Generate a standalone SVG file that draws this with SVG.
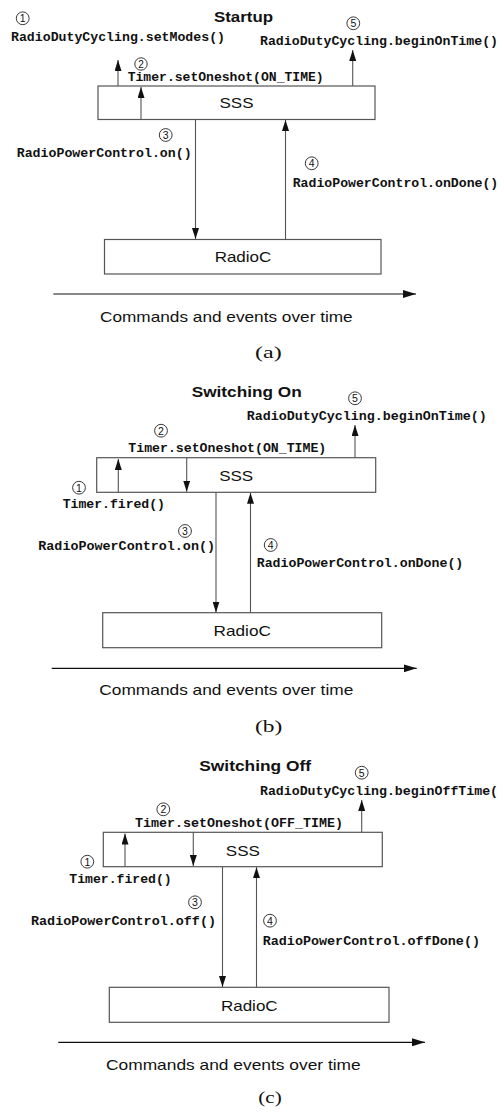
<svg xmlns="http://www.w3.org/2000/svg" width="499" height="1113" viewBox="0 0 499 1113">
  <style>
    .box { fill: #fff; stroke: #555; stroke-width: 1.2; }
    .conn { fill: none; stroke: #555; stroke-width: 1.1; marker-end: url(#ah); }
    .time { fill: none; stroke: #111; stroke-width: 1.2; marker-end: url(#th); }
    .mono { font-family: "Liberation Mono", "Courier New", monospace; font-weight: bold; font-size: 13.2px; fill: #111; }
    .sans { font-family: "Liberation Sans", Arial, sans-serif; font-size: 15px; fill: #111; }
    .title { font-family: "Liberation Sans", Arial, sans-serif; font-weight: bold; font-size: 15px; fill: #111; }
    .num { fill: none; stroke: #222; stroke-width: 0.9; }
    .dig { font-family: "Liberation Sans", Arial, sans-serif; font-size: 10.5px; fill: #111; text-anchor: middle; }
    .cap { font-family: "Liberation Serif", "DejaVu Serif", serif; font-size: 17px; fill: #111; }
  </style>
  <defs>
    <marker id="ah" viewBox="0 0 11 7" markerWidth="11" markerHeight="7" refX="11" refY="3.5" orient="auto" markerUnits="userSpaceOnUse">
      <path d="M0,0 L11,3.5 L0,7 z" fill="#111"/>
    </marker>
    <marker id="th" viewBox="0 0 13 8" markerWidth="13" markerHeight="8" refX="13" refY="4" orient="auto" markerUnits="userSpaceOnUse">
      <path d="M0,0 L13,4 L0,8 z" fill="#111"/>
    </marker>
  </defs>

  <rect width="499" height="1113" fill="#fff"/>

  <!-- ===== (a) Startup ===== -->
  <text class="title" x="214" y="22" textLength="59" lengthAdjust="spacingAndGlyphs">Startup</text>

  <g id="sss-a">
    <rect class="box" x="98" y="86" width="277" height="33.5"/>
    <text class="sans" x="236.5" y="108" text-anchor="middle" textLength="34" lengthAdjust="spacingAndGlyphs">SSS</text>
  </g>
  <g id="radioc-a">
    <rect class="box" x="104.5" y="239.5" width="276.5" height="34.5"/>
    <text class="sans" x="243" y="262" text-anchor="middle" textLength="56.7" lengthAdjust="spacingAndGlyphs">RadioC</text>
  </g>

  <g id="connectors-a">
    <line class="conn" x1="118" y1="86" x2="118" y2="60"/>
    <line class="conn" x1="141" y1="119.5" x2="141" y2="87"/>
    <line class="conn" x1="352.7" y1="86" x2="352.7" y2="50"/>
    <line class="conn" x1="195.5" y1="119.5" x2="195.5" y2="239"/>
    <line class="conn" x1="285.5" y1="239.5" x2="285.5" y2="120"/>
    <line class="time" x1="53.3" y1="294" x2="416" y2="294"/>
  </g>

  <g id="labels-a">
    <circle class="num" cx="22.7" cy="18.3" r="6.4"/><text class="dig" x="22.7" y="22.1">1</text>
    <text class="mono" x="11" y="41" textLength="214" lengthAdjust="spacingAndGlyphs">RadioDutyCycling.setModes()</text>
    <circle class="num" cx="141" cy="64" r="6.2"/><text class="dig" x="141" y="67.6" style="font-size:10px">2</text>
    <text class="mono" x="127.7" y="81" textLength="196" lengthAdjust="spacingAndGlyphs">Timer.setOneshot(ON_TIME)</text>
    <circle class="num" cx="353.3" cy="23.3" r="6.4"/><text class="dig" x="353.3" y="27.1">5</text>
    <text class="mono" x="260" y="45" textLength="238" lengthAdjust="spacingAndGlyphs">RadioDutyCycling.beginOnTime()</text>
    <circle class="num" cx="165.7" cy="135" r="6.4"/><text class="dig" x="165.7" y="138.8">3</text>
    <text class="mono" x="16.7" y="156.7" textLength="175" lengthAdjust="spacingAndGlyphs">RadioPowerControl.on()</text>
    <circle class="num" cx="311.7" cy="163.3" r="6.4"/><text class="dig" x="311.7" y="167.1">4</text>
    <text class="mono" x="292.7" y="186.7" textLength="205.6" lengthAdjust="spacingAndGlyphs">RadioPowerControl.onDone()</text>
    <text class="sans" x="100" y="321.7" textLength="252.7" lengthAdjust="spacingAndGlyphs">Commands and events over time</text>
    <text class="cap" x="255" y="358.3" textLength="26.7" lengthAdjust="spacingAndGlyphs">(a)</text>
  </g>

  <!-- ===== (b) Switching On ===== -->
  <text class="title" x="191.7" y="397" textLength="110" lengthAdjust="spacingAndGlyphs">Switching On</text>

  <g id="sss-b">
    <rect class="box" x="96.7" y="457.7" width="279" height="34.6"/>
    <text class="sans" x="236.2" y="481" text-anchor="middle" textLength="34" lengthAdjust="spacingAndGlyphs">SSS</text>
  </g>
  <g id="radioc-b">
    <rect class="box" x="102.7" y="612.7" width="279" height="35"/>
    <text class="sans" x="242.2" y="636" text-anchor="middle" textLength="57.4" lengthAdjust="spacingAndGlyphs">RadioC</text>
  </g>

  <g id="connectors-b">
    <line class="conn" x1="118.3" y1="492.3" x2="118.3" y2="459"/>
    <line class="conn" x1="186.7" y1="457.7" x2="186.7" y2="491.7"/>
    <line class="conn" x1="355" y1="457.7" x2="355" y2="425"/>
    <line class="conn" x1="216" y1="492.3" x2="216" y2="612.5"/>
    <line class="conn" x1="250.5" y1="612.7" x2="250.5" y2="492.8"/>
    <line class="time" x1="51.7" y1="668.3" x2="416.7" y2="668.3"/>
  </g>

  <g id="labels-b">
    <circle class="num" cx="355" cy="398.3" r="6.4"/><text class="dig" x="355" y="402.1">5</text>
    <text class="mono" x="246.7" y="420" textLength="240" lengthAdjust="spacingAndGlyphs">RadioDutyCycling.beginOnTime()</text>
    <circle class="num" cx="161" cy="430.7" r="6.4"/><text class="dig" x="161" y="434.5">2</text>
    <text class="mono" x="128.3" y="452.3" textLength="198" lengthAdjust="spacingAndGlyphs">Timer.setOneshot(ON_TIME)</text>
    <circle class="num" cx="79" cy="487.7" r="6.4"/><text class="dig" x="79" y="491.5">1</text>
    <text class="mono" x="62.7" y="508.3" textLength="102.3" lengthAdjust="spacingAndGlyphs">Timer.fired()</text>
    <circle class="num" cx="185" cy="531" r="6.4"/><text class="dig" x="185" y="534.8">3</text>
    <text class="mono" x="38.3" y="550" textLength="176.7" lengthAdjust="spacingAndGlyphs">RadioPowerControl.on()</text>
    <circle class="num" cx="270.7" cy="545" r="6.4"/><text class="dig" x="270.7" y="548.8">4</text>
    <text class="mono" x="256.7" y="566.7" textLength="206.6" lengthAdjust="spacingAndGlyphs">RadioPowerControl.onDone()</text>
    <text class="sans" x="99.3" y="695" textLength="254" lengthAdjust="spacingAndGlyphs">Commands and events over time</text>
    <text class="cap" x="255" y="731.7" textLength="27.3" lengthAdjust="spacingAndGlyphs">(b)</text>
  </g>

  <!-- ===== (c) Switching Off ===== -->
  <text class="title" x="199.3" y="771" textLength="111.7" lengthAdjust="spacingAndGlyphs">Switching Off</text>

  <g id="sss-c">
    <rect class="box" x="103.3" y="832.3" width="279" height="34.4"/>
    <text class="sans" x="242.8" y="855.5" text-anchor="middle" textLength="34" lengthAdjust="spacingAndGlyphs">SSS</text>
  </g>
  <g id="radioc-c">
    <rect class="box" x="109.3" y="987.3" width="279.7" height="35"/>
    <text class="sans" x="249.3" y="1010.5" text-anchor="middle" textLength="56.7" lengthAdjust="spacingAndGlyphs">RadioC</text>
  </g>

  <g id="connectors-c">
    <line class="conn" x1="125" y1="866.7" x2="125" y2="833.5"/>
    <line class="conn" x1="193.3" y1="832.3" x2="193.3" y2="866"/>
    <line class="conn" x1="361.7" y1="832.3" x2="361.7" y2="800"/>
    <line class="conn" x1="222.5" y1="866.7" x2="222.5" y2="987"/>
    <line class="conn" x1="256.5" y1="987.3" x2="256.5" y2="867.2"/>
    <line class="time" x1="58.3" y1="1042.3" x2="425" y2="1042.3"/>
  </g>

  <g id="labels-c">
    <circle class="num" cx="361.7" cy="772.7" r="6.4"/><text class="dig" x="361.7" y="776.5">5</text>
    <text class="mono" x="260" y="795" textLength="238" lengthAdjust="spacingAndGlyphs">RadioDutyCycling.beginOffTime(</text>
    <circle class="num" cx="163.3" cy="809.3" r="6.4"/><text class="dig" x="163.3" y="813.1">2</text>
    <text class="mono" x="135" y="827.3" textLength="208" lengthAdjust="spacingAndGlyphs">Timer.setOneshot(OFF_TIME)</text>
    <circle class="num" cx="87.3" cy="861.7" r="6.4"/><text class="dig" x="87.3" y="865.5">1</text>
    <text class="mono" x="69.3" y="883.3" textLength="102.4" lengthAdjust="spacingAndGlyphs">Timer.fired()</text>
    <circle class="num" cx="195" cy="902.3" r="6.4"/><text class="dig" x="195" y="906.1">3</text>
    <text class="mono" x="31" y="925" textLength="185" lengthAdjust="spacingAndGlyphs">RadioPowerControl.off()</text>
    <circle class="num" cx="270" cy="920.7" r="6.4"/><text class="dig" x="270" y="924.5">4</text>
    <text class="mono" x="262.7" y="945" textLength="217.3" lengthAdjust="spacingAndGlyphs">RadioPowerControl.offDone()</text>
    <text class="sans" x="106" y="1070" textLength="254.7" lengthAdjust="spacingAndGlyphs">Commands and events over time</text>
    <text class="cap" x="258.3" y="1103.3" textLength="23.4" lengthAdjust="spacingAndGlyphs">(c)</text>
  </g>
</svg>
